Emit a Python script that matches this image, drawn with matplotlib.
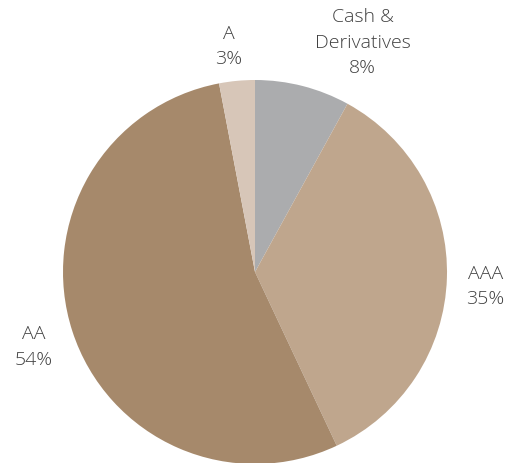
import matplotlib.pyplot as plt

# credit quality breakdown
labels = ['Cash &\nDerivatives', 'AAA', 'AA', 'A']
values = [8, 35, 54, 3]
colors = ['#ABACAE', '#BFA68D', '#A6896B', '#D7C6B8']

# label spots (pie radius = 1)
label_pos = [(0.56, 1.20), (1.20, -0.07), (-1.15, -0.385), (-0.135, 1.18)]

fig = plt.figure(figsize=(5.21, 4.64), dpi=100)
ax = fig.add_axes([0, 0, 1, 1])

ax.pie(values, colors=colors, startangle=90, counterclock=False,
       radius=1, wedgeprops=dict(linewidth=0))

for lab, val, (x, y) in zip(labels, values, label_pos):
    ax.text(x, y, f'{lab}\n{val}%', ha='center', va='center',
            fontsize=14, color='#404040', family='Open Sans',
            fontweight='light', linespacing=1.55)

r_px = 192
ax.set_xlim(-255 / r_px, (521 - 255) / r_px)
ax.set_ylim(-(464 - 273) / r_px, 273 / r_px)
ax.axis('off')

fig.savefig('out.png', dpi=100)
